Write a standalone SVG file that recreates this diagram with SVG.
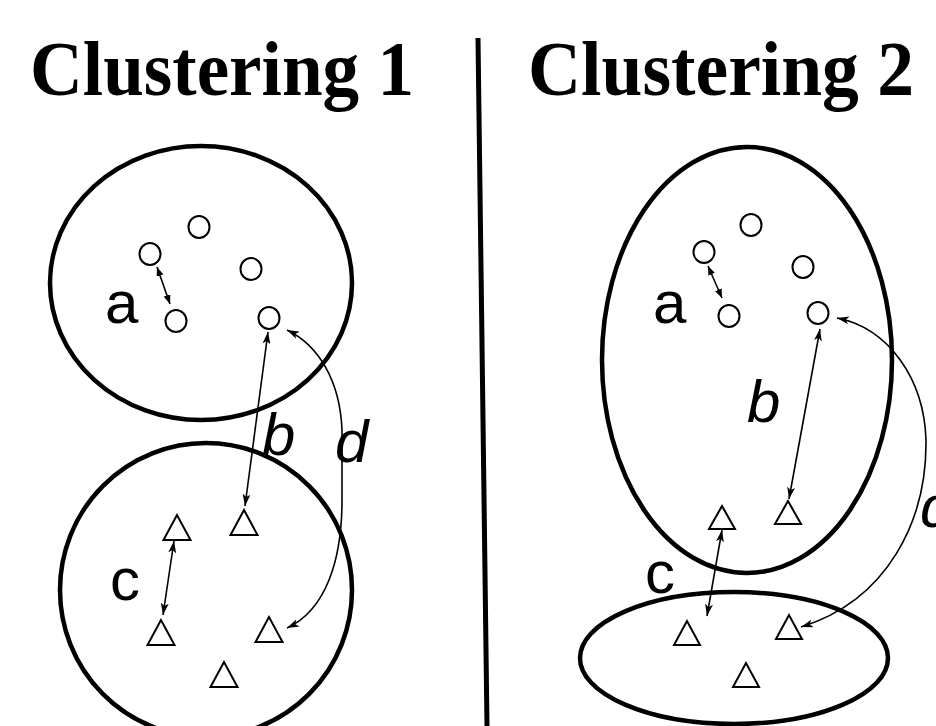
<svg xmlns="http://www.w3.org/2000/svg" width="936" height="726" viewBox="0 0 936 726">
<defs>
<style>
.title{font-family:"Liberation Serif","Times New Roman",serif;font-weight:bold;font-size:78px;fill:#000}
.lbl{font-family:"Liberation Sans",Arial,sans-serif;font-size:60px;fill:#000}
.it{font-style:italic}
.clu{fill:none;stroke:#000;stroke-width:4.5}
.pt{fill:#fff;stroke:#000;stroke-width:2}
.arr{fill:none;stroke:#000;stroke-width:1.6;marker-start:url(#ah);marker-end:url(#ah)}
.arrs{fill:none;stroke:#000;stroke-width:1.6;marker-start:url(#ahs);marker-end:url(#ahs)}
</style>
<marker id="ah" viewBox="0 0 12 8" refX="12" refY="4" markerWidth="12" markerHeight="8" markerUnits="userSpaceOnUse" orient="auto-start-reverse"><path d="M0,0 L12,4 L0,8 L3,4 z" fill="#000"/></marker>
<marker id="ahs" viewBox="0 0 9 7" refX="9" refY="3.5" markerWidth="9" markerHeight="7" markerUnits="userSpaceOnUse" orient="auto-start-reverse"><path d="M0,0 L9,3.5 L0,7 z" fill="#000"/></marker>
</defs>
<rect width="936" height="726" fill="#fff"/>
<text class="title" x="30" y="95" textLength="384" lengthAdjust="spacingAndGlyphs">Clustering 1</text>
<text class="title" x="528" y="95" textLength="386" lengthAdjust="spacingAndGlyphs">Clustering 2</text>
<line x1="478" y1="38" x2="487" y2="726" stroke="#000" stroke-width="5"/>

<g id="cluster1-top"><ellipse class="clu" cx="201" cy="283" rx="151" ry="137"/></g>
<g id="cluster1-bottom"><ellipse class="clu" cx="206" cy="590" rx="146" ry="147"/></g>
<g id="cluster2-top"><ellipse class="clu" cx="747" cy="360" rx="145" ry="213"/></g>
<g id="cluster2-bottom"><ellipse class="clu" cx="734" cy="658" rx="154" ry="66"/></g>

<g id="left-points">
<g id="l-o1"><ellipse class="pt" cx="199" cy="227" rx="10.5" ry="11"/></g>
<g id="l-o2"><ellipse class="pt" cx="150" cy="254" rx="10.5" ry="11"/></g>
<g id="l-o3"><ellipse class="pt" cx="251" cy="269" rx="10.5" ry="11"/></g>
<g id="l-o4"><ellipse class="pt" cx="176" cy="321" rx="10.5" ry="11"/></g>
<g id="l-o5"><ellipse class="pt" cx="269" cy="318" rx="10.5" ry="11"/></g>
<g id="l-t1"><polygon class="pt" points="177,515 163.5,540 190.5,540"/></g>
<g id="l-t2"><polygon class="pt" points="244,510 230.5,535 257.5,535"/></g>
<g id="l-t3"><polygon class="pt" points="161,620 147.5,645 174.5,645"/></g>
<g id="l-t4"><polygon class="pt" points="269,617 255.5,642 282.5,642"/></g>
<g id="l-t5"><polygon class="pt" points="224,662 210.5,687 237.5,687"/></g>
</g>

<g id="right-points">
<g id="r-o1"><ellipse class="pt" cx="751" cy="225" rx="10.5" ry="11"/></g>
<g id="r-o2"><ellipse class="pt" cx="704" cy="252" rx="10.5" ry="11"/></g>
<g id="r-o3"><ellipse class="pt" cx="803" cy="267" rx="10.5" ry="11"/></g>
<g id="r-o4"><ellipse class="pt" cx="729" cy="316" rx="10.5" ry="11"/></g>
<g id="r-o5"><ellipse class="pt" cx="818" cy="313" rx="10.5" ry="11"/></g>
<g id="r-t1"><polygon class="pt" points="722,506 709,529 735,529"/></g>
<g id="r-t2"><polygon class="pt" points="788,501 775,524 801,524"/></g>
<g id="r-t3"><polygon class="pt" points="687,621 674,645 700,645"/></g>
<g id="r-t4"><polygon class="pt" points="789,615 776,639 802,639"/></g>
<g id="r-t5"><polygon class="pt" points="746,663 733,687 759,687"/></g>
</g>

<g id="connectors">
<path class="arrs" d="M157,267 L170,304"/>
<path class="arr" d="M268,332 L245,506"/>
<path class="arr" d="M174,541 L163,615"/>
<path class="arr" d="M287,330 C318,345 340,380 342,430 L342,500 C342,560 326,610 287,628"/>
<path class="arrs" d="M708,266 L722,298"/>
<path class="arr" d="M820,329 L789,499"/>
<path class="arr" d="M722,530 L707,616"/>
<path class="arr" d="M837,318 C888,328 924,378 926,440 C927,520 888,600 801,627"/>
</g>

<g id="labels">
<text class="lbl" x="105" y="323">a</text>
<text class="lbl it" x="262" y="455">b</text>
<text class="lbl it" x="335" y="462">d</text>
<text class="lbl" x="110" y="600">c</text>
<text class="lbl" x="653" y="323">a</text>
<text class="lbl it" x="747" y="422">b</text>
<text class="lbl" x="645" y="593">c</text>
<text class="lbl it" x="920" y="527">d</text>
</g>
</svg>
